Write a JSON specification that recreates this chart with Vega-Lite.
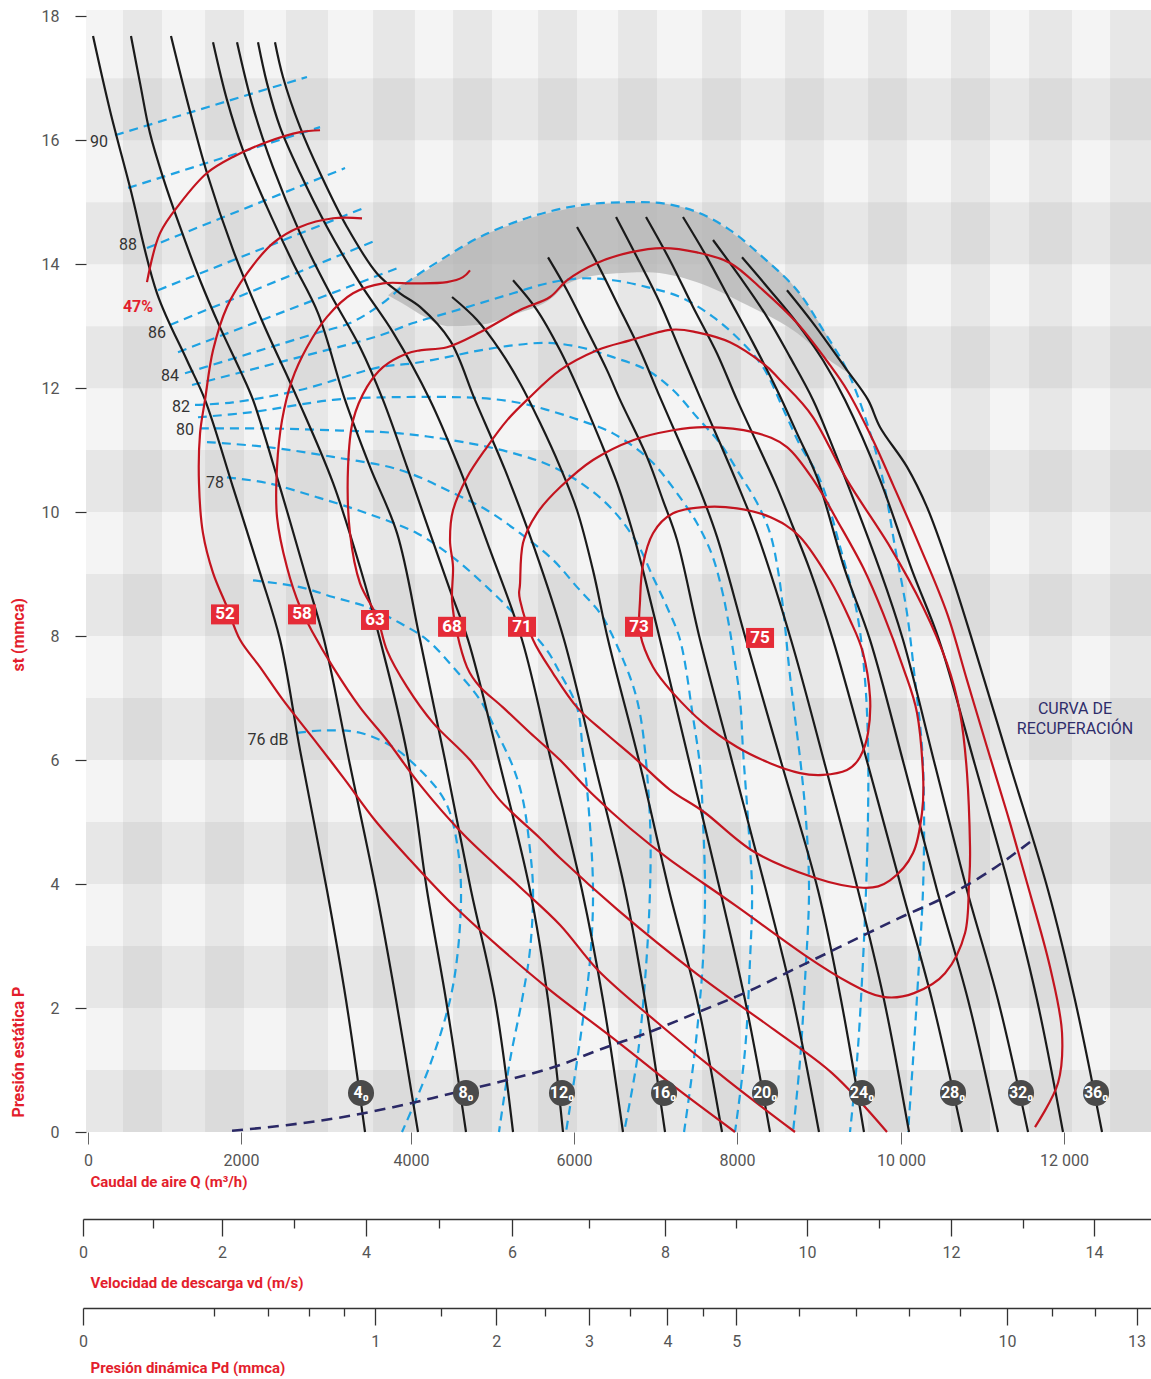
{
"$schema": "https://vega.github.io/schema/vega-lite/v6.json",
"autosize": {"type": "none"},
"padding": {"left": 86, "top": 10, "right": 0, "bottom": 247},
"width": 1065,
"height": 1122,
"background": "white",
"config": {"view": {"stroke": null, "fill": "#f4f4f4"}, "font": "Roboto, sans-serif"},
"datasets": {
"vs": [{"a":453,"b":931},{"a":1458,"b":1936},{"a":2450,"b":2965},{"a":3516,"b":4030},{"a":4496,"b":4974},{"a":5537,"b":6015},{"a":6517,"b":6995},{"a":7546,"b":8024},{"a":8563,"b":9040},{"a":9580,"b":10057},{"a":10596,"b":11074},{"a":11552,"b":12079},{"a":12544,"b":13046}],
"hs": [{"a":0,"b":1},{"a":2,"b":3},{"a":4,"b":5},{"a":6,"b":7},{"a":8,"b":9},{"a":10,"b":11},{"a":12,"b":13},{"a":14,"b":15},{"a":16,"b":17}],
"shade": [{"x":3700,"t":13.5,"b":13.5},{"x":3847,"t":13.65,"b":13.39},{"x":4177,"t":13.9,"b":13.13},{"x":4422,"t":14.11,"b":13.0},{"x":4827,"t":14.44,"b":13.02},{"x":5231,"t":14.65,"b":13.18},{"x":5721,"t":14.84,"b":13.47},{"x":5892,"t":14.89,"b":13.68},{"x":6382,"t":14.98,"b":13.84},{"x":6872,"t":15.0,"b":13.87},{"x":7485,"t":14.84,"b":13.71},{"x":8097,"t":14.32,"b":13.34},{"x":8710,"t":13.58,"b":12.89},{"x":9077,"t":12.85,"b":12.48},{"x":9322,"t":12.29,"b":12.26}],
"fan": [
{"k":"c1","x":86,"y":17.68},{"k":"c1","x":294,"y":16.48},{"k":"c1","x":539,"y":15.24},{"k":"c1","x":870,"y":13.53},{"k":"c1","x":1237,"y":12.45},{"k":"c1","x":1458,"y":11.81},{"k":"c1","x":1801,"y":10.4},{"k":"c1","x":2132,"y":9.02},{"k":"c1","x":2377,"y":7.94},{"k":"c1","x":2622,"y":6.16},{"k":"c1","x":2952,"y":3.9},{"k":"c1","x":3185,"y":2.13},{"k":"c1","x":3418,"y":0},
{"k":"c2","x":551,"y":17.68},{"k":"c2","x":662,"y":16.92},{"k":"c2","x":784,"y":16.11},{"k":"c2","x":943,"y":15.4},{"k":"c2","x":1152,"y":14.6},{"k":"c2","x":1397,"y":13.74},{"k":"c2","x":1642,"y":12.98},{"k":"c2","x":1887,"y":12.29},{"k":"c2","x":2046,"y":11.81},{"k":"c2","x":2377,"y":10.4},{"k":"c2","x":2707,"y":8.9},{"k":"c2","x":2916,"y":7.94},{"k":"c2","x":3234,"y":5.92},{"k":"c2","x":3553,"y":3.9},{"k":"c2","x":3798,"y":2.13},{"k":"c2","x":4067,"y":0},
{"k":"c3","x":1041,"y":17.68},{"k":"c3","x":1237,"y":16.65},{"k":"c3","x":1482,"y":15.47},{"k":"c3","x":1801,"y":14.23},{"k":"c3","x":2168,"y":13.05},{"k":"c3","x":2597,"y":11.81},{"k":"c3","x":3026,"y":10.47},{"k":"c3","x":3357,"y":9.11},{"k":"c3","x":3602,"y":7.94},{"k":"c3","x":3932,"y":6.11},{"k":"c3","x":4177,"y":3.9},{"k":"c3","x":4410,"y":2.13},{"k":"c3","x":4655,"y":0},
{"k":"c4","x":1556,"y":17.58},{"k":"c4","x":1727,"y":16.65},{"k":"c4","x":1923,"y":15.84},{"k":"c4","x":2217,"y":14.92},{"k":"c4","x":2536,"y":14.02},{"k":"c4","x":2842,"y":13.21},{"k":"c4","x":3173,"y":11.81},{"k":"c4","x":3479,"y":10.73},{"k":"c4","x":3810,"y":9.66},{"k":"c4","x":4092,"y":7.94},{"k":"c4","x":4398,"y":6.0},{"k":"c4","x":4716,"y":3.9},{"k":"c4","x":5010,"y":2.13},{"k":"c4","x":5231,"y":0},
{"k":"c5","x":1850,"y":17.58},{"k":"c5","x":2046,"y":16.53},{"k":"c5","x":2291,"y":15.56},{"k":"c5","x":2622,"y":14.5},{"k":"c5","x":2989,"y":13.53},{"k":"c5","x":3357,"y":12.66},{"k":"c5","x":3638,"y":11.81},{"k":"c5","x":3932,"y":10.73},{"k":"c5","x":4214,"y":9.66},{"k":"c5","x":4459,"y":8.74},{"k":"c5","x":4680,"y":7.94},{"k":"c5","x":5072,"y":5.92},{"k":"c5","x":5439,"y":3.9},{"k":"c5","x":5660,"y":2.13},{"k":"c5","x":5843,"y":0},
{"k":"c6","x":2107,"y":17.58},{"k":"c6","x":2217,"y":16.92},{"k":"c6","x":2377,"y":16.21},{"k":"c6","x":2622,"y":15.47},{"k":"c6","x":2952,"y":14.6},{"k":"c6","x":3357,"y":13.69},{"k":"c6","x":3761,"y":12.9},{"k":"c6","x":4214,"y":11.81},{"k":"c6","x":4582,"y":10.68},{"k":"c6","x":4949,"y":9.39},{"k":"c6","x":5341,"y":7.94},{"k":"c6","x":5709,"y":5.92},{"k":"c6","x":6076,"y":3.9},{"k":"c6","x":6333,"y":2.13},{"k":"c6","x":6578,"y":0},
{"k":"c7","x":2315,"y":17.58},{"k":"c7","x":2413,"y":17.02},{"k":"c7","x":2622,"y":16.21},{"k":"c7","x":2867,"y":15.47},{"k":"c7","x":3197,"y":14.6},{"k":"c7","x":3565,"y":13.85},{"k":"c7","x":3847,"y":13.53},{"k":"c7","x":4092,"y":13.31},{"k":"c7","x":4459,"y":12.77},{"k":"c7","x":4765,"y":11.81},{"k":"c7","x":5133,"y":10.68},{"k":"c7","x":5500,"y":9.39},{"k":"c7","x":5856,"y":7.94},{"k":"c7","x":6235,"y":5.92},{"k":"c7","x":6603,"y":3.9},{"k":"c7","x":6848,"y":2.13},{"k":"c7","x":7093,"y":0},
{"k":"c8","x":4484,"y":13.47},{"k":"c8","x":4790,"y":13.1},{"k":"c8","x":5072,"y":12.61},{"k":"c8","x":5317,"y":12.08},{"k":"c8","x":5562,"y":11.44},{"k":"c8","x":5807,"y":10.73},{"k":"c8","x":6015,"y":10.03},{"k":"c8","x":6211,"y":9.06},{"k":"c8","x":6395,"y":7.94},{"k":"c8","x":6787,"y":5.92},{"k":"c8","x":7142,"y":3.9},{"k":"c8","x":7485,"y":2.13},{"k":"c8","x":7791,"y":0},
{"k":"c9","x":5231,"y":13.74},{"k":"c9","x":5525,"y":13.26},{"k":"c9","x":5807,"y":12.61},{"k":"c9","x":6052,"y":11.92},{"k":"c9","x":6297,"y":11.16},{"k":"c9","x":6505,"y":10.47},{"k":"c9","x":6701,"y":9.66},{"k":"c9","x":6823,"y":9.06},{"k":"c9","x":7032,"y":7.94},{"k":"c9","x":7399,"y":5.92},{"k":"c9","x":7767,"y":3.9},{"k":"c9","x":8073,"y":2.13},{"k":"c9","x":8379,"y":0},
{"k":"c10","x":5660,"y":14.11},{"k":"c10","x":5892,"y":13.58},{"k":"c10","x":6137,"y":12.94},{"k":"c10","x":6382,"y":12.29},{"k":"c10","x":6542,"y":11.81},{"k":"c10","x":6872,"y":10.89},{"k":"c10","x":7068,"y":10.19},{"k":"c10","x":7240,"y":9.55},{"k":"c10","x":7522,"y":7.94},{"k":"c10","x":7926,"y":5.92},{"k":"c10","x":8330,"y":3.9},{"k":"c10","x":8661,"y":2.13},{"k":"c10","x":8979,"y":0},
{"k":"c11","x":6015,"y":14.6},{"k":"c11","x":6260,"y":14.02},{"k":"c11","x":6505,"y":13.37},{"k":"c11","x":6787,"y":12.61},{"k":"c11","x":7032,"y":11.85},{"k":"c11","x":7277,"y":11.11},{"k":"c11","x":7522,"y":10.35},{"k":"c11","x":7730,"y":9.6},{"k":"c11","x":8085,"y":7.94},{"k":"c11","x":8526,"y":5.92},{"k":"c11","x":8967,"y":3.9},{"k":"c11","x":9249,"y":2.13},{"k":"c11","x":9530,"y":0},
{"k":"c12","x":6493,"y":14.76},{"k":"c12","x":6750,"y":14.11},{"k":"c12","x":7032,"y":13.37},{"k":"c12","x":7277,"y":12.61},{"k":"c12","x":7522,"y":11.85},{"k":"c12","x":7767,"y":11.11},{"k":"c12","x":8012,"y":10.35},{"k":"c12","x":8220,"y":9.66},{"k":"c12","x":8636,"y":7.94},{"k":"c12","x":9053,"y":5.92},{"k":"c12","x":9457,"y":3.9},{"k":"c12","x":9776,"y":2.13},{"k":"c12","x":10082,"y":0},
{"k":"c13","x":6860,"y":14.76},{"k":"c13","x":7154,"y":14.06},{"k":"c13","x":7436,"y":13.31},{"k":"c13","x":7730,"y":12.56},{"k":"c13","x":7975,"y":11.81},{"k":"c13","x":8220,"y":11.11},{"k":"c13","x":8465,"y":10.4},{"k":"c13","x":8661,"y":9.76},{"k":"c13","x":8869,"y":9.06},{"k":"c13","x":9151,"y":7.94},{"k":"c13","x":9580,"y":5.92},{"k":"c13","x":9996,"y":3.9},{"k":"c13","x":10364,"y":2.13},{"k":"c13","x":10731,"y":0},
{"k":"c14","x":7313,"y":14.76},{"k":"c14","x":7607,"y":14.11},{"k":"c14","x":7889,"y":13.42},{"k":"c14","x":8171,"y":12.73},{"k":"c14","x":8465,"y":11.97},{"k":"c14","x":8710,"y":11.27},{"k":"c14","x":8955,"y":10.56},{"k":"c14","x":9298,"y":9.06},{"k":"c14","x":9604,"y":7.94},{"k":"c14","x":10021,"y":5.92},{"k":"c14","x":10425,"y":3.9},{"k":"c14","x":10805,"y":2.13},{"k":"c14","x":11172,"y":0},
{"k":"c15","x":7681,"y":14.39},{"k":"c15","x":8012,"y":13.79},{"k":"c15","x":8342,"y":13.15},{"k":"c15","x":8624,"y":12.5},{"k":"c15","x":8906,"y":11.81},{"k":"c15","x":9114,"y":11.16},{"k":"c15","x":9727,"y":9.06},{"k":"c15","x":10008,"y":7.94},{"k":"c15","x":10400,"y":5.92},{"k":"c15","x":10792,"y":3.9},{"k":"c15","x":11172,"y":2.13},{"k":"c15","x":11540,"y":0},
{"k":"c16","x":8036,"y":14.11},{"k":"c16","x":8379,"y":13.58},{"k":"c16","x":8710,"y":13.05},{"k":"c16","x":9028,"y":12.45},{"k":"c16","x":9298,"y":11.81},{"k":"c16","x":9727,"y":10.52},{"k":"c16","x":10119,"y":9.06},{"k":"c16","x":10449,"y":7.94},{"k":"c16","x":10890,"y":5.92},{"k":"c16","x":11319,"y":3.9},{"k":"c16","x":11650,"y":2.13},{"k":"c16","x":11968,"y":0},
{"k":"c17","x":8587,"y":13.58},{"k":"c17","x":8906,"y":13.05},{"k":"c17","x":9322,"y":12.29},{"k":"c17","x":9580,"y":11.81},{"k":"c17","x":9727,"y":11.37},{"k":"c17","x":10057,"y":10.73},{"k":"c17","x":10302,"y":10.08},{"k":"c17","x":10584,"y":9.06},{"k":"c17","x":10854,"y":7.94},{"k":"c17","x":11319,"y":5.92},{"k":"c17","x":11785,"y":3.9},{"k":"c17","x":12115,"y":2.13},{"k":"c17","x":12446,"y":0}
],
"noise": [
{"k":"n90","x":355,"y":16.08},{"k":"n90","x":2707,"y":17.02},
{"k":"n89","x":515,"y":15.23},{"k":"n89","x":2867,"y":16.21},
{"k":"n88","x":747,"y":14.26},{"k":"n88","x":3173,"y":15.55},
{"k":"n87","x":882,"y":13.58},{"k":"n87","x":3393,"y":14.9},
{"k":"n86","x":1029,"y":13.02},{"k":"n86","x":3565,"y":14.39},
{"k":"n85","x":1127,"y":12.58},{"k":"n85","x":3822,"y":13.94},
{"k":"n84","x":1213,"y":12.24},{"k":"n84","x":2009,"y":12.56},{"k":"n84","x":2830,"y":12.89},{"k":"n84","x":3234,"y":13.05},{"k":"n84","x":3602,"y":13.34},{"k":"n84","x":3969,"y":13.74},{"k":"n84","x":4337,"y":14.06},{"k":"n84","x":4827,"y":14.44},{"k":"n84","x":5439,"y":14.76},{"k":"n84","x":6052,"y":14.95},{"k":"n84","x":6664,"y":15.0},{"k":"n84","x":7068,"y":14.98},{"k":"n84","x":7485,"y":14.84},{"k":"n84","x":7889,"y":14.55},{"k":"n84","x":8293,"y":14.11},{"k":"n84","x":8710,"y":13.58},{"k":"n84","x":9028,"y":12.94},{"k":"n84","x":9322,"y":12.29},{"k":"n84","x":9567,"y":11.44},{"k":"n84","x":9763,"y":10.52},{"k":"n84","x":9910,"y":9.44},{"k":"n84","x":10057,"y":8.37},{"k":"n84","x":10155,"y":7.29},{"k":"n84","x":10241,"y":6.21},{"k":"n84","x":10266,"y":5.15},{"k":"n84","x":10253,"y":3.9},{"k":"n84","x":10192,"y":2.45},{"k":"n84","x":10131,"y":1.16},{"k":"n84","x":10070,"y":0},
{"k":"n83","x":1299,"y":12.05},{"k":"n83","x":2377,"y":12.42},{"k":"n83","x":3602,"y":12.85},{"k":"n83","x":4006,"y":13.05},{"k":"n83","x":4422,"y":13.21},{"k":"n83","x":4827,"y":13.37},{"k":"n83","x":5231,"y":13.53},{"k":"n83","x":5647,"y":13.69},{"k":"n83","x":6052,"y":13.77},{"k":"n83","x":6456,"y":13.74},{"k":"n83","x":6872,"y":13.63},{"k":"n83","x":7277,"y":13.47},{"k":"n83","x":7681,"y":13.15},{"k":"n83","x":8012,"y":12.77},{"k":"n83","x":8293,"y":12.34},{"k":"n83","x":8563,"y":11.6},{"k":"n83","x":8747,"y":11.08},{"k":"n83","x":8992,"y":10.52},{"k":"n83","x":9237,"y":9.44},{"k":"n83","x":9445,"y":8.37},{"k":"n83","x":9543,"y":7.29},{"k":"n83","x":9580,"y":6.21},{"k":"n83","x":9580,"y":5.15},{"k":"n83","x":9555,"y":3.9},{"k":"n83","x":9506,"y":2.45},{"k":"n83","x":9445,"y":1.16},{"k":"n83","x":9359,"y":0},
{"k":"n82","x":1335,"y":11.73},{"k":"n82","x":1801,"y":11.77},{"k":"n82","x":2622,"y":11.97},{"k":"n82","x":3602,"y":12.34},{"k":"n82","x":4006,"y":12.4},{"k":"n82","x":4422,"y":12.5},{"k":"n82","x":4827,"y":12.61},{"k":"n82","x":5231,"y":12.69},{"k":"n82","x":5647,"y":12.73},{"k":"n82","x":6052,"y":12.66},{"k":"n82","x":6456,"y":12.5},{"k":"n82","x":6872,"y":12.29},{"k":"n82","x":7191,"y":11.97},{"k":"n82","x":7485,"y":11.53},{"k":"n82","x":7767,"y":11.11},{"k":"n82","x":8012,"y":10.6},{"k":"n82","x":8220,"y":10.15},{"k":"n82","x":8379,"y":9.66},{"k":"n82","x":8477,"y":9.06},{"k":"n82","x":8551,"y":8.31},{"k":"n82","x":8612,"y":7.5},{"k":"n82","x":8685,"y":6.69},{"k":"n82","x":8759,"y":5.89},{"k":"n82","x":8820,"y":5.03},{"k":"n82","x":8857,"y":3.9},{"k":"n82","x":8808,"y":2.45},{"k":"n82","x":8747,"y":1.16},{"k":"n82","x":8661,"y":0},
{"k":"n81","x":1372,"y":11.53},{"k":"n81","x":2009,"y":11.61},{"k":"n81","x":3026,"y":11.81},{"k":"n81","x":3602,"y":11.85},{"k":"n81","x":4827,"y":11.84},{"k":"n81","x":5317,"y":11.76},{"k":"n81","x":5647,"y":11.65},{"k":"n81","x":6052,"y":11.48},{"k":"n81","x":6456,"y":11.27},{"k":"n81","x":6909,"y":10.84},{"k":"n81","x":7215,"y":10.35},{"k":"n81","x":7485,"y":9.82},{"k":"n81","x":7669,"y":9.31},{"k":"n81","x":7791,"y":8.74},{"k":"n81","x":7865,"y":8.26},{"k":"n81","x":7926,"y":7.77},{"k":"n81","x":8012,"y":6.97},{"k":"n81","x":8048,"y":6.16},{"k":"n81","x":8110,"y":5.03},{"k":"n81","x":8159,"y":3.9},{"k":"n81","x":8134,"y":2.77},{"k":"n81","x":8073,"y":1.32},{"k":"n81","x":7950,"y":0},
{"k":"n80","x":1397,"y":11.35},{"k":"n80","x":2217,"y":11.35},{"k":"n80","x":3026,"y":11.32},{"k":"n80","x":3847,"y":11.27},{"k":"n80","x":4704,"y":11.11},{"k":"n80","x":5317,"y":10.92},{"k":"n80","x":5721,"y":10.73},{"k":"n80","x":6137,"y":10.4},{"k":"n80","x":6456,"y":10.03},{"k":"n80","x":6750,"y":9.5},{"k":"n80","x":6946,"y":8.95},{"k":"n80","x":7117,"y":8.47},{"k":"n80","x":7277,"y":7.94},{"k":"n80","x":7436,"y":6.69},{"k":"n80","x":7522,"y":5.89},{"k":"n80","x":7558,"y":5.03},{"k":"n80","x":7583,"y":3.9},{"k":"n80","x":7558,"y":2.77},{"k":"n80","x":7460,"y":1.32},{"k":"n80","x":7326,"y":0},
{"k":"n79","x":1482,"y":11.13},{"k":"n79","x":2217,"y":11.05},{"k":"n79","x":3026,"y":10.89},{"k":"n79","x":3847,"y":10.68},{"k":"n79","x":4496,"y":10.31},{"k":"n79","x":4912,"y":10.03},{"k":"n79","x":5317,"y":9.66},{"k":"n79","x":5721,"y":9.23},{"k":"n79","x":6015,"y":8.79},{"k":"n79","x":6297,"y":8.37},{"k":"n79","x":6444,"y":8.02},{"k":"n79","x":6664,"y":7.34},{"k":"n79","x":6750,"y":6.97},{"k":"n79","x":6823,"y":6.44},{"k":"n79","x":6909,"y":5.03},{"k":"n79","x":6909,"y":3.9},{"k":"n79","x":6848,"y":2.45},{"k":"n79","x":6750,"y":1.16},{"k":"n79","x":6591,"y":0},
{"k":"n78","x":1727,"y":10.56},{"k":"n78","x":2217,"y":10.47},{"k":"n78","x":2830,"y":10.24},{"k":"n78","x":3442,"y":9.98},{"k":"n78","x":4055,"y":9.66},{"k":"n78","x":4496,"y":9.27},{"k":"n78","x":4912,"y":8.79},{"k":"n78","x":5317,"y":8.26},{"k":"n78","x":5647,"y":7.77},{"k":"n78","x":5807,"y":7.4},{"k":"n78","x":6015,"y":6.85},{"k":"n78","x":6088,"y":6.11},{"k":"n78","x":6150,"y":5.35},{"k":"n78","x":6211,"y":3.9},{"k":"n78","x":6174,"y":2.77},{"k":"n78","x":6052,"y":1.48},{"k":"n78","x":5880,"y":0},
{"k":"n77","x":2046,"y":8.9},{"k":"n77","x":2622,"y":8.79},{"k":"n77","x":3026,"y":8.63},{"k":"n77","x":3442,"y":8.47},{"k":"n77","x":3847,"y":8.21},{"k":"n77","x":4177,"y":7.94},{"k":"n77","x":4496,"y":7.5},{"k":"n77","x":4827,"y":6.97},{"k":"n77","x":5035,"y":6.44},{"k":"n77","x":5231,"y":5.89},{"k":"n77","x":5353,"y":5.35},{"k":"n77","x":5439,"y":4.55},{"k":"n77","x":5476,"y":3.9},{"k":"n77","x":5439,"y":2.94},{"k":"n77","x":5341,"y":2.13},{"k":"n77","x":5194,"y":1.16},{"k":"n77","x":5059,"y":0},
{"k":"n76","x":2585,"y":6.44},{"k":"n76","x":2952,"y":6.48},{"k":"n76","x":3357,"y":6.44},{"k":"n76","x":3761,"y":6.21},{"k":"n76","x":4092,"y":5.84},{"k":"n76","x":4337,"y":5.47},{"k":"n76","x":4459,"y":5.15},{"k":"n76","x":4557,"y":4.55},{"k":"n76","x":4594,"y":3.9},{"k":"n76","x":4557,"y":2.94},{"k":"n76","x":4459,"y":2.13},{"k":"n76","x":4214,"y":1.08},{"k":"n76","x":3871,"y":0}
],
"effopen": [
{"k":"r47","x":747,"y":13.71},{"k":"r47","x":907,"y":14.5},{"k":"r47","x":1152,"y":14.98},{"k":"r47","x":1482,"y":15.47},{"k":"r47","x":1801,"y":15.73},{"k":"r47","x":2217,"y":15.97},{"k":"r47","x":2622,"y":16.13},{"k":"r47","x":2867,"y":16.16},
{"k":"r52","x":3381,"y":14.74},{"k":"r52","x":3026,"y":14.74},{"k":"r52","x":2622,"y":14.6},{"k":"r52","x":2291,"y":14.34},{"k":"r52","x":1972,"y":13.85},{"k":"r52","x":1727,"y":13.31},{"k":"r52","x":1556,"y":12.61},{"k":"r52","x":1458,"y":11.81},{"k":"r52","x":1397,"y":11.27},{"k":"r52","x":1384,"y":10.47},{"k":"r52","x":1433,"y":9.66},{"k":"r52","x":1556,"y":9.02},{"k":"r52","x":1727,"y":8.47},{"k":"r52","x":1887,"y":7.94},{"k":"r52","x":2132,"y":7.5},{"k":"r52","x":2413,"y":6.97},{"k":"r52","x":2830,"y":6.27},{"k":"r52","x":3173,"y":5.68},{"k":"r52","x":3540,"y":5.03},{"k":"r52","x":3969,"y":4.39},{"k":"r52","x":4459,"y":3.71},{"k":"r52","x":5072,"y":2.97},{"k":"r52","x":5684,"y":2.29},{"k":"r52","x":6517,"y":1.45},{"k":"r52","x":7228,"y":0.71},{"k":"r52","x":7950,"y":0},
{"k":"r58","x":4704,"y":13.9},{"k":"r58","x":4618,"y":13.79},{"k":"r58","x":4422,"y":13.71},{"k":"r58","x":4006,"y":13.69},{"k":"r58","x":3638,"y":13.69},{"k":"r58","x":3271,"y":13.53},{"k":"r58","x":2952,"y":13.15},{"k":"r58","x":2707,"y":12.66},{"k":"r58","x":2524,"y":12.13},{"k":"r58","x":2401,"y":11.48},{"k":"r58","x":2340,"y":10.73},{"k":"r58","x":2340,"y":9.92},{"k":"r58","x":2462,"y":9.11},{"k":"r58","x":2622,"y":8.47},{"k":"r58","x":2781,"y":8.05},{"k":"r58","x":3026,"y":7.5},{"k":"r58","x":3357,"y":6.85},{"k":"r58","x":3687,"y":6.32},{"k":"r58","x":4092,"y":5.6},{"k":"r58","x":4631,"y":4.79},{"k":"r58","x":5292,"y":3.98},{"k":"r58","x":5807,"y":3.34},{"k":"r58","x":6272,"y":2.61},{"k":"r58","x":6995,"y":1.77},{"k":"r58","x":7852,"y":0.84},{"k":"r58","x":8685,"y":0},
{"k":"r63","x":9812,"y":0},{"k":"r63","x":9139,"y":0.95},{"k":"r63","x":8428,"y":1.65},{"k":"r63","x":7473,"y":2.56},{"k":"r63","x":6517,"y":3.58},{"k":"r63","x":5807,"y":4.42},{"k":"r63","x":5562,"y":4.74},{"k":"r63","x":5072,"y":5.35},{"k":"r63","x":4704,"y":6.0},{"k":"r63","x":4251,"y":6.6},{"k":"r63","x":3932,"y":7.18},{"k":"r63","x":3687,"y":7.77},{"k":"r63","x":3565,"y":8.31},{"k":"r63","x":3357,"y":8.85},{"k":"r63","x":3234,"y":9.66},{"k":"r63","x":3210,"y":10.73},{"k":"r63","x":3271,"y":11.48},{"k":"r63","x":3442,"y":12.02},{"k":"r63","x":3638,"y":12.34},{"k":"r63","x":3932,"y":12.56},{"k":"r63","x":4092,"y":12.61},{"k":"r63","x":4422,"y":12.66},{"k":"r63","x":4827,"y":12.9},{"k":"r63","x":5317,"y":13.26},{"k":"r63","x":5684,"y":13.47},{"k":"r63","x":5892,"y":13.74},{"k":"r63","x":6260,"y":14.02},{"k":"r63","x":6664,"y":14.19},{"k":"r63","x":7068,"y":14.26},{"k":"r63","x":7485,"y":14.19},{"k":"r63","x":7889,"y":14.02},{"k":"r63","x":8293,"y":13.58},{"k":"r63","x":8710,"y":13.05},{"k":"r63","x":9114,"y":12.37},{"k":"r63","x":9322,"y":11.97},{"k":"r63","x":9641,"y":11.16},{"k":"r63","x":9886,"y":10.44},{"k":"r63","x":10217,"y":9.44},{"k":"r63","x":10547,"y":8.37},{"k":"r63","x":10792,"y":7.29},{"k":"r63","x":11037,"y":6.21},{"k":"r63","x":11282,"y":5.15},{"k":"r63","x":11527,"y":4.02},{"k":"r63","x":11809,"y":2.66},{"k":"r63","x":11956,"y":1.6},{"k":"r63","x":11907,"y":0.79},{"k":"r63","x":11625,"y":0.08}
],
"effclosed": [
{"k":"r68","x":5402,"y":11.81},{"k":"r68","x":5157,"y":11.48},{"k":"r68","x":4912,"y":11.05},{"k":"r68","x":4667,"y":10.56},{"k":"r68","x":4496,"y":10.03},{"k":"r68","x":4459,"y":9.55},{"k":"r68","x":4496,"y":9.11},{"k":"r68","x":4484,"y":8.58},{"k":"r68","x":4545,"y":8.05},{"k":"r68","x":4667,"y":7.5},{"k":"r68","x":4827,"y":7.18},{"k":"r68","x":5108,"y":6.85},{"k":"r68","x":5439,"y":6.44},{"k":"r68","x":5807,"y":6.0},{"k":"r68","x":6211,"y":5.44},{"k":"r68","x":6664,"y":4.9},{"k":"r68","x":7154,"y":4.39},{"k":"r68","x":7950,"y":3.66},{"k":"r68","x":8808,"y":2.85},{"k":"r68","x":9359,"y":2.4},{"k":"r68","x":9763,"y":2.18},{"k":"r68","x":10143,"y":2.24},{"k":"r68","x":10523,"y":2.56},{"k":"r68","x":10768,"y":3.21},{"k":"r68","x":10817,"y":4.02},{"k":"r68","x":10829,"y":4.6},{"k":"r68","x":10792,"y":5.79},{"k":"r68","x":10707,"y":6.76},{"k":"r68","x":10547,"y":7.56},{"k":"r68","x":10253,"y":8.47},{"k":"r68","x":9849,"y":9.44},{"k":"r68","x":9322,"y":10.52},{"k":"r68","x":8906,"y":11.53},{"k":"r68","x":8502,"y":12.13},{"k":"r68","x":8293,"y":12.4},{"k":"r68","x":7889,"y":12.74},{"k":"r68","x":7485,"y":12.9},{"k":"r68","x":7154,"y":12.94},{"k":"r68","x":6664,"y":12.77},{"k":"r68","x":6260,"y":12.61},{"k":"r68","x":5807,"y":12.29},
{"k":"r71","x":5317,"y":8.85},{"k":"r71","x":5353,"y":9.5},{"k":"r71","x":5525,"y":9.98},{"k":"r71","x":5807,"y":10.4},{"k":"r71","x":6211,"y":10.84},{"k":"r71","x":6701,"y":11.16},{"k":"r71","x":7191,"y":11.32},{"k":"r71","x":7607,"y":11.37},{"k":"r71","x":8171,"y":11.29},{"k":"r71","x":8587,"y":11.05},{"k":"r71","x":8930,"y":10.48},{"k":"r71","x":9200,"y":9.87},{"k":"r71","x":9518,"y":9.11},{"k":"r71","x":9763,"y":8.37},{"k":"r71","x":10008,"y":7.5},{"k":"r71","x":10180,"y":6.76},{"k":"r71","x":10253,"y":5.79},{"k":"r71","x":10241,"y":5.15},{"k":"r71","x":10131,"y":4.5},{"k":"r71","x":9849,"y":4.06},{"k":"r71","x":9518,"y":3.94},{"k":"r71","x":8906,"y":4.11},{"k":"r71","x":8183,"y":4.52},{"k":"r71","x":7583,"y":5.15},{"k":"r71","x":7154,"y":5.52},{"k":"r71","x":6750,"y":6.0},{"k":"r71","x":6358,"y":6.44},{"k":"r71","x":6015,"y":6.85},{"k":"r71","x":5721,"y":7.4},{"k":"r71","x":5476,"y":7.94},{"k":"r71","x":5317,"y":8.58},
{"k":"r73","x":6787,"y":8.58},{"k":"r73","x":6823,"y":9.15},{"k":"r73","x":6946,"y":9.66},{"k":"r73","x":7191,"y":9.98},{"k":"r73","x":7558,"y":10.08},{"k":"r73","x":7975,"y":10.06},{"k":"r73","x":8379,"y":9.92},{"k":"r73","x":8747,"y":9.6},{"k":"r73","x":9114,"y":8.9},{"k":"r73","x":9359,"y":8.26},{"k":"r73","x":9518,"y":7.73},{"k":"r73","x":9604,"y":7.02},{"k":"r73","x":9580,"y":6.44},{"k":"r73","x":9482,"y":6.05},{"k":"r73","x":9322,"y":5.84},{"k":"r73","x":9028,"y":5.76},{"k":"r73","x":8747,"y":5.79},{"k":"r73","x":8379,"y":5.95},{"k":"r73","x":7975,"y":6.21},{"k":"r73","x":7558,"y":6.6},{"k":"r73","x":7191,"y":7.08},{"k":"r73","x":6946,"y":7.5},{"k":"r73","x":6787,"y":8.05}
],
"recup": [{"x":1789,"y":0.02},{"x":2450,"y":0.11},{"x":3099,"y":0.23},{"x":3761,"y":0.4},{"x":4410,"y":0.6},{"x":5072,"y":0.81},{"x":5807,"y":1.08},{"x":6272,"y":1.32},{"x":6897,"y":1.61},{"x":7473,"y":1.92},{"x":8097,"y":2.26},{"x":8710,"y":2.65},{"x":9335,"y":3.05},{"x":9959,"y":3.45},{"x":10523,"y":3.79},{"x":11050,"y":4.19},{"x":11625,"y":4.74}],
"circ": [{"t":"4₀","x":3369,"y":0.63},{"t":"8₀","x":4655,"y":0.63},{"t":"12₀","x":5831,"y":0.63},{"t":"16₀","x":7081,"y":0.63},{"t":"20₀","x":8318,"y":0.63},{"t":"24₀","x":9506,"y":0.63},{"t":"28₀","x":10621,"y":0.63},{"t":"32₀","x":11454,"y":0.63},{"t":"36₀","x":12373,"y":0.63}],
"boxes": [{"t":"52","x":1703,"y":8.35},{"t":"58","x":2646,"y":8.35},{"t":"63","x":3540,"y":8.26},{"t":"68","x":4484,"y":8.15},{"t":"71","x":5341,"y":8.15},{"t":"73","x":6774,"y":8.15},{"t":"75","x":8257,"y":7.97}],
"dbl": [{"t":"90","x":159,"y":15.97},{"t":"88","x":515,"y":14.31},{"t":"86","x":870,"y":12.89},{"t":"84","x":1029,"y":12.19},{"t":"82","x":1164,"y":11.69},{"t":"80","x":1213,"y":11.32},{"t":"78","x":1580,"y":10.47},{"t":"76 dB","x":2230,"y":6.32}]
},
"layer": [
{"data": {"name": "vs"}, "mark": {"type": "rect", "fill": "#000000", "opacity": 0.05},
 "encoding": {"x": {"field": "a", "type": "quantitative", "scale": {"domain": [0, 13046], "nice": false, "zero": false}, "axis": null}, "x2": {"field": "b"},
  "y": {"datum": 0, "type": "quantitative", "scale": {"domain": [0, 18.1], "nice": false, "zero": false}, "axis": null}, "y2": {"datum": 18.1}}},
{"data": {"name": "hs"}, "mark": {"type": "rect", "fill": "#000000", "opacity": 0.05},
 "encoding": {"x": {"datum": 0, "type": "quantitative", "scale": {"domain": [0, 13046], "nice": false, "zero": false}, "axis": null}, "x2": {"datum": 13046},
  "y": {"field": "a", "type": "quantitative", "scale": {"domain": [0, 18.1], "nice": false, "zero": false}, "axis": null}, "y2": {"field": "b"}}},
{"data": {"name": "shade"}, "mark": {"type": "area", "fill": "#b2b2b2", "opacity": 0.72, "interpolate": "monotone"},
 "encoding": {"x": {"field": "x", "type": "quantitative", "scale": {"domain": [0, 13046], "nice": false, "zero": false}, "axis": null},
  "y": {"field": "t", "type": "quantitative", "scale": {"domain": [0, 18.1], "nice": false, "zero": false}, "axis": null}, "y2": {"field": "b"}}},
{"data": {"name": "noise"}, "mark": {"type": "line", "stroke": "#1ea2e2", "strokeWidth": 2.2, "strokeDash": [9, 6], "interpolate": "catmull-rom"},
 "encoding": {"x": {"field": "x", "type": "quantitative", "scale": {"domain": [0, 13046], "nice": false, "zero": false}, "axis": null},
  "y": {"field": "y", "type": "quantitative", "scale": {"domain": [0, 18.1], "nice": false, "zero": false}, "axis": null}, "detail": {"field": "k"}, "order": {"value": null}}},
{"data": {"name": "fan"}, "mark": {"type": "line", "stroke": "#1a1a1a", "strokeWidth": 2.2, "interpolate": "catmull-rom"},
 "encoding": {"x": {"field": "x", "type": "quantitative", "scale": {"domain": [0, 13046], "nice": false, "zero": false}, "axis": null},
  "y": {"field": "y", "type": "quantitative", "scale": {"domain": [0, 18.1], "nice": false, "zero": false},
   "axis": {"orient": "left", "values": [0, 2, 4, 6, 8, 10, 12, 14, 16, 18], "domain": false, "grid": false, "ticks": true, "tickSize": 11, "tickColor": "#333333", "tickWidth": 1.2,
    "labelFontSize": 16, "labelColor": "#555555", "labelPadding": 16, "title": null}},
  "detail": {"field": "k"}, "order": {"value": null}}},
{"data": {"name": "effopen"}, "mark": {"type": "line", "stroke": "#c3141f", "strokeWidth": 2.2, "interpolate": "catmull-rom"},
 "encoding": {"x": {"field": "x", "type": "quantitative", "scale": {"domain": [0, 13046], "nice": false, "zero": false}, "axis": null},
  "y": {"field": "y", "type": "quantitative", "scale": {"domain": [0, 18.1], "nice": false, "zero": false}, "axis": null}, "detail": {"field": "k"}, "order": {"value": null}}},
{"data": {"name": "effclosed"}, "mark": {"type": "line", "stroke": "#c3141f", "strokeWidth": 2.2, "interpolate": "cardinal-closed"},
 "encoding": {"x": {"field": "x", "type": "quantitative", "scale": {"domain": [0, 13046], "nice": false, "zero": false}, "axis": null},
  "y": {"field": "y", "type": "quantitative", "scale": {"domain": [0, 18.1], "nice": false, "zero": false}, "axis": null}, "detail": {"field": "k"}, "order": {"value": null}}},
{"data": {"name": "recup"}, "mark": {"type": "line", "stroke": "#2b2966", "strokeWidth": 2.6, "strokeDash": [11, 7], "interpolate": "monotone"},
 "encoding": {"x": {"field": "x", "type": "quantitative", "scale": {"domain": [0, 13046], "nice": false, "zero": false}, "axis": null},
  "y": {"field": "y", "type": "quantitative", "scale": {"domain": [0, 18.1], "nice": false, "zero": false}, "axis": null}}},
{"data": {"name": "circ"}, "mark": {"type": "point", "shape": "circle", "size": 680, "filled": true, "fill": "#4a4a4a", "opacity": 1, "strokeWidth": 0},
 "encoding": {"x": {"field": "x", "type": "quantitative", "scale": {"domain": [0, 13046], "nice": false, "zero": false}, "axis": null},
  "y": {"field": "y", "type": "quantitative", "scale": {"domain": [0, 18.1], "nice": false, "zero": false}, "axis": null}}},
{"data": {"name": "circ"}, "mark": {"type": "text", "color": "#ffffff", "fontWeight": "bold", "fontSize": 16, "align": "center", "baseline": "middle"},
 "encoding": {"x": {"field": "x", "type": "quantitative", "scale": {"domain": [0, 13046], "nice": false, "zero": false}, "axis": null},
  "y": {"field": "y", "type": "quantitative", "scale": {"domain": [0, 18.1], "nice": false, "zero": false}, "axis": null}, "text": {"field": "t"}}},
{"data": {"name": "boxes"}, "mark": {"type": "point", "shape": "M-1.4,-1H1.4V1H-1.4Z", "size": 400, "filled": true, "fill": "#e52b37", "opacity": 1, "strokeWidth": 0},
 "encoding": {"x": {"field": "x", "type": "quantitative", "scale": {"domain": [0, 13046], "nice": false, "zero": false}, "axis": null},
  "y": {"field": "y", "type": "quantitative", "scale": {"domain": [0, 18.1], "nice": false, "zero": false}, "axis": null}}},
{"data": {"name": "boxes"}, "mark": {"type": "text", "color": "#ffffff", "fontWeight": "bold", "fontSize": 17, "align": "center", "baseline": "middle"},
 "encoding": {"x": {"field": "x", "type": "quantitative", "scale": {"domain": [0, 13046], "nice": false, "zero": false}, "axis": null},
  "y": {"field": "y", "type": "quantitative", "scale": {"domain": [0, 18.1], "nice": false, "zero": false}, "axis": null}, "text": {"field": "t"}}},
{"data": {"name": "dbl"}, "mark": {"type": "text", "color": "#333333", "fontSize": 16, "align": "center", "baseline": "middle"},
 "encoding": {"x": {"field": "x", "type": "quantitative", "scale": {"domain": [0, 13046], "nice": false, "zero": false}, "axis": null},
  "y": {"field": "y", "type": "quantitative", "scale": {"domain": [0, 18.1], "nice": false, "zero": false}, "axis": null}, "text": {"field": "t"}}},
{"data": {"values": [{"t": "47%", "x": 637, "y": 13.31}]}, "mark": {"type": "text", "color": "#e31e2d", "fontWeight": "bold", "fontSize": 16, "align": "center", "baseline": "middle"},
 "encoding": {"x": {"field": "x", "type": "quantitative", "scale": {"domain": [0, 13046], "nice": false, "zero": false}, "axis": null},
  "y": {"field": "y", "type": "quantitative", "scale": {"domain": [0, 18.1], "nice": false, "zero": false}, "axis": null}, "text": {"field": "t"}}},
{"data": {"values": [{"t": "CURVA DE", "x": 12115, "y": 6.82}, {"t": "RECUPERACIÓN", "x": 12115, "y": 6.5}]}, "mark": {"type": "text", "color": "#2e2d6b", "fontSize": 16, "align": "center", "baseline": "middle"},
 "encoding": {"x": {"field": "x", "type": "quantitative", "scale": {"domain": [0, 13046], "nice": false, "zero": false}, "axis": null},
  "y": {"field": "y", "type": "quantitative", "scale": {"domain": [0, 18.1], "nice": false, "zero": false}, "axis": null}, "text": {"field": "t"}}},
{"data": {"values": [{"t": "st (mmca)", "x": -820, "y": 8.02}, {"t": "Presión estática P", "x": -820, "y": 1.29}]}, "mark": {"type": "text", "color": "#e31e2d", "fontWeight": "bold", "fontSize": 16, "angle": 270, "align": "center", "baseline": "middle"},
 "encoding": {"x": {"field": "x", "type": "quantitative", "scale": {"domain": [0, 13046], "nice": false, "zero": false}, "axis": null},
  "y": {"field": "y", "type": "quantitative", "scale": {"domain": [0, 18.1], "nice": false, "zero": false}, "axis": null}, "text": {"field": "t"}}},
{"data": {"values": [{"q": 0}, {"q": 13046}]}, "mark": {"type": "point", "opacity": 0},
 "encoding": {"x": {"field": "q", "type": "quantitative", "scale": {"domain": [0, 2000, 4000, 6000, 8000, 10000, 12000, 13046], "range": [2, 155, 325, 488, 651, 815, 978, 1065], "nice": false, "zero": false},
  "axis": {"orient": "bottom", "values": [0, 2000, 4000, 6000, 8000, 10000, 12000], "domain": false, "grid": false, "tickSize": 12, "tickColor": "#666666", "tickWidth": 1, "labelFlush": false,
   "labelExpr": "datum.value >= 10000 ? replace(format(datum.value, ','), ',', ' ') : format(datum.value, 'd')",
   "labelFontSize": 16, "labelColor": "#555555", "labelPadding": 8,
   "title": "Caudal de aire Q (m³/h)", "titleColor": "#e31e2d", "titleFontSize": 15, "titleFontWeight": "bold",
   "titleAnchor": "start", "titleAlign": "left", "titleX": 4, "titleY": 49, "titleBaseline": "middle"}}}},
{"data": {"values": [{"v": 0}, {"v": 14.79}]}, "mark": {"type": "point", "opacity": 0},
 "encoding": {"x": {"field": "v", "type": "quantitative", "scale": {"domain": [0, 2, 4, 6, 8, 10, 12, 14, 14.79], "range": [-3, 136, 280, 426, 579, 721, 865, 1008, 1065], "nice": false, "zero": false},
  "axis": {"orient": "bottom", "offset": 87, "values": [0, 2, 4, 6, 8, 10, 12, 14], "tickSize": 17, "tickColor": "#333333", "tickWidth": 1.3, "domain": true, "domainColor": "#333333", "domainWidth": 1.6, "grid": false, "labelFlush": false,
   "labelFontSize": 16, "labelColor": "#555555", "labelPadding": 8,
   "title": "Velocidad de descarga vd (m/s)", "titleColor": "#e31e2d", "titleFontSize": 15, "titleFontWeight": "bold",
   "titleAnchor": "start", "titleAlign": "left", "titleX": 4, "titleY": 63, "titleBaseline": "middle"}}}},
{"data": {"values": [{"v": 0}, {"v": 14.79}]}, "mark": {"type": "point", "opacity": 0},
 "encoding": {"x": {"field": "v", "type": "quantitative", "scale": {"domain": [0, 2, 4, 6, 8, 10, 12, 14, 14.79], "range": [-3, 136, 280, 426, 579, 721, 865, 1008, 1065], "nice": false, "zero": false},
  "axis": {"orient": "bottom", "offset": 87, "values": [1, 3, 5, 7, 9, 11, 13], "tickSize": 9, "tickColor": "#333333", "tickWidth": 1.3, "domain": false, "grid": false, "labels": false, "title": null}}}},
{"data": {"values": [{"p": 0}, {"p": 13.36}]}, "mark": {"type": "point", "opacity": 0},
 "encoding": {"x": {"field": "p", "type": "quantitative", "scale": {"type": "sqrt", "domain": [0, 13.36], "range": [-3, 1065], "nice": false, "zero": false},
  "axis": {"orient": "bottom", "offset": 176, "values": [0, 1, 2, 3, 4, 5, 10, 13], "tickSize": 17, "tickColor": "#333333", "tickWidth": 1.3, "domain": true, "domainColor": "#333333", "domainWidth": 1.6, "grid": false, "labelFlush": false,
   "labelFontSize": 16, "labelColor": "#555555", "labelPadding": 8,
   "title": "Presión dinámica Pd (mmca)", "titleColor": "#e31e2d", "titleFontSize": 15, "titleFontWeight": "bold",
   "titleAnchor": "start", "titleAlign": "left", "titleX": 4, "titleY": 59, "titleBaseline": "middle"}}}},
{"data": {"values": [{"p": 0}, {"p": 13.36}]}, "mark": {"type": "point", "opacity": 0},
 "encoding": {"x": {"field": "p", "type": "quantitative", "scale": {"type": "sqrt", "domain": [0, 13.36], "range": [-3, 1065], "nice": false, "zero": false},
  "axis": {"orient": "bottom", "offset": 176, "values": [0.2, 0.4, 0.6, 0.8, 1.5, 2.5, 3.5, 4.5, 6, 7, 8, 9, 11, 12], "tickSize": 8, "tickColor": "#333333", "tickWidth": 1.3, "domain": false, "grid": false, "labels": false, "title": null}}}}
],
"resolve": {"scale": {"x": "independent", "y": "independent"}, "axis": {"x": "independent", "y": "independent"}}
}
